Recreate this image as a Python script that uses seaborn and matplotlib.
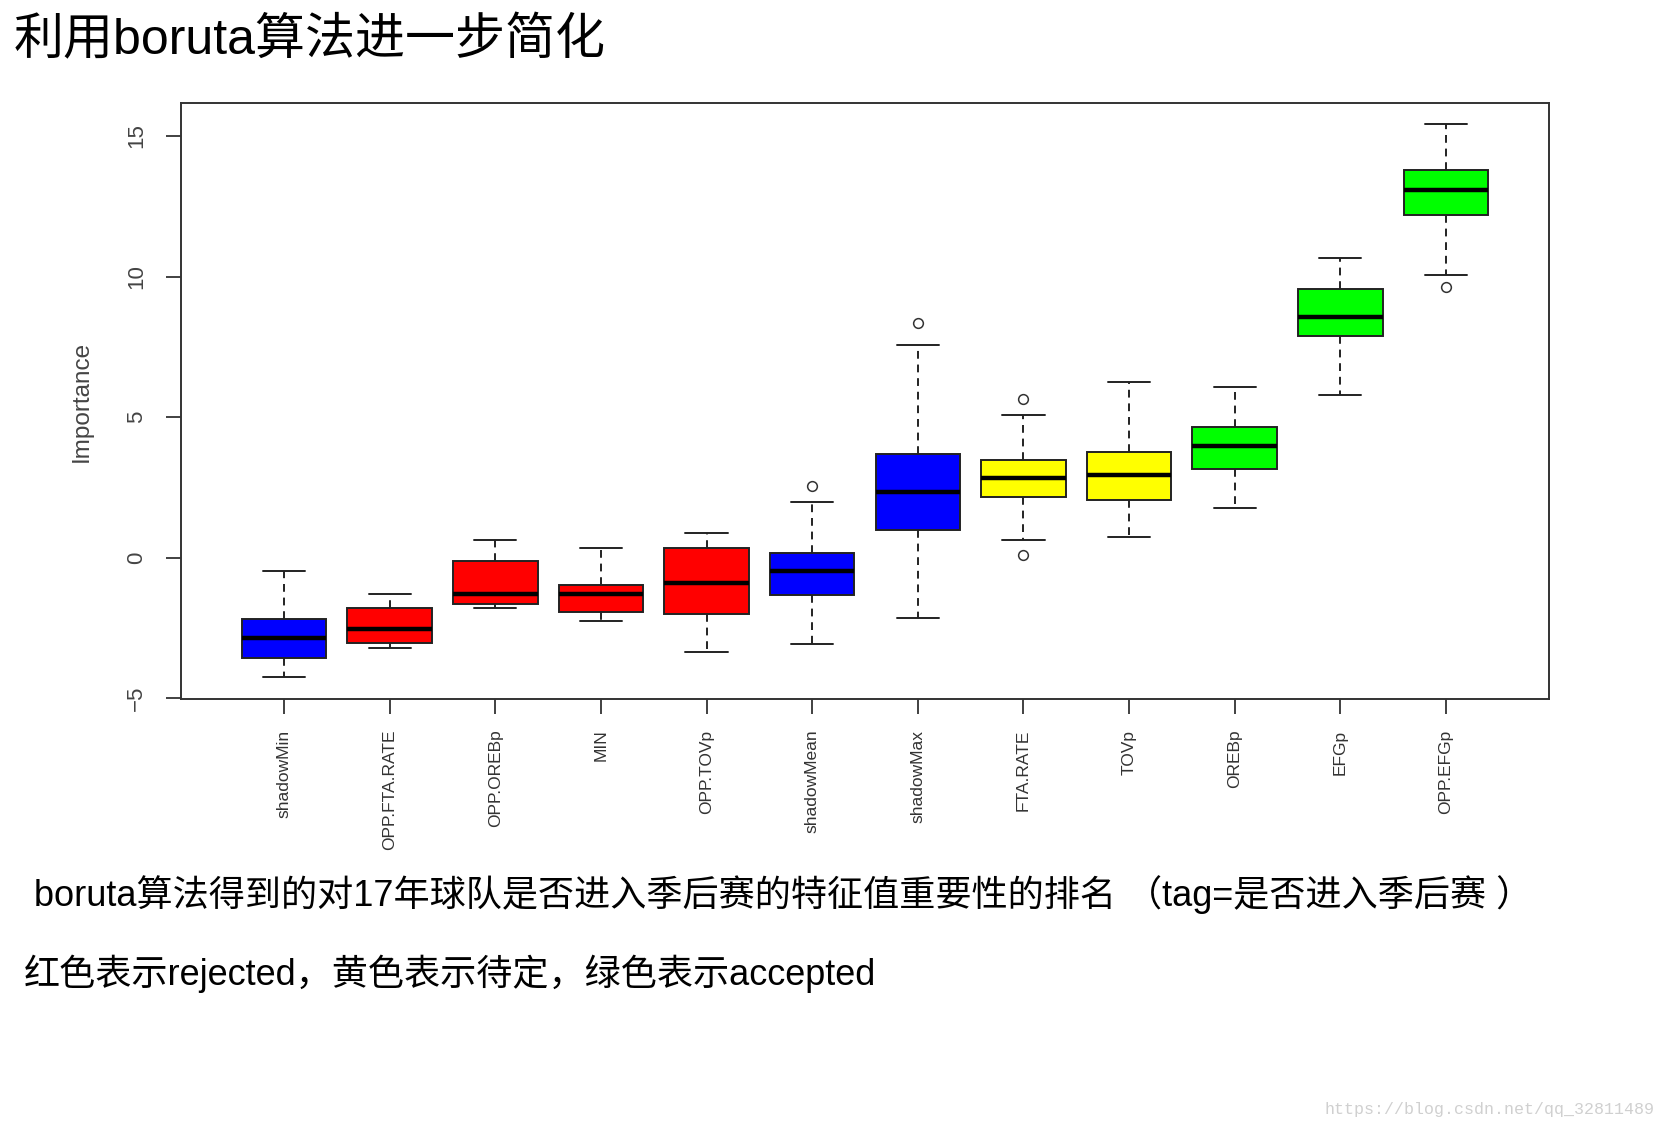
import pandas as pd
import matplotlib
matplotlib.use('Agg')
import matplotlib.pyplot as plt
import seaborn as sns

# Boruta importance summary per feature
features = ['shadowMin', 'OPP.FTA.RATE', 'OPP.OREBp', 'MIN', 'OPP.TOVp', 'shadowMean',
            'shadowMax', 'FTA.RATE', 'TOVp', 'OREBp', 'EFGp', 'OPP.EFGp']
box_colors = ['#0000FF', '#FF0000', '#FF0000', '#FF0000', '#FF0000', '#0000FF',
              '#0000FF', '#FFFF00', '#FFFF00', '#00FF00', '#00FF00', '#00FF00']
whisker_low = [-4.23, -3.22, -1.81, -2.24, -3.34, -3.07, -2.14, 0.62, 0.73, 1.78, 5.79, 10.05]
q1 = [-3.57, -3.02, -1.66, -1.92, -2.01, -1.32, 1.00, 2.15, 2.04, 3.15, 7.89, 12.18]
median = [-2.85, -2.53, -1.31, -1.31, -0.92, -0.48, 2.33, 2.82, 2.94, 3.98, 8.56, 13.08]
q3 = [-2.19, -1.81, -0.11, -0.99, 0.33, 0.16, 3.70, 3.47, 3.75, 4.64, 9.55, 13.79]
whisker_high = [-0.48, -1.31, 0.61, 0.34, 0.88, 1.98, 7.56, 5.08, 6.24, 6.07, 10.65, 15.44]
outlier_low = [None, None, None, None, None, None, None, 0.10, None, None, None, 9.64]
outlier_high = [None, None, None, None, None, 2.54, 8.34, 5.64, None, None, None, None]

title = '利用boruta算法进一步简化'
caption1 = 'boruta算法得到的对17年球队是否进入季后赛的特征值重要性的排名 （tag=是否进入季后赛 ）'
caption2 = '红色表示rejected，黄色表示待定，绿色表示accepted'
watermark = 'https://blog.csdn.net/qq_32811489'


def build_frame():
    # nine values per feature so the quartiles land on q1 / median / q3
    rows = []
    for i, name in enumerate(features):
        lo_tail = outlier_low[i] if outlier_low[i] is not None else whisker_low[i]
        hi_tail = outlier_high[i] if outlier_high[i] is not None else whisker_high[i]
        vals = [lo_tail, whisker_low[i], q1[i], q1[i], median[i],
                q3[i], q3[i], whisker_high[i], hi_tail]
        for v in vals:
            rows.append({'feature': name, 'Importance': v})
    return pd.DataFrame(rows)


def main():
    df = build_frame()

    sns.set_theme(style='ticks')
    plt.rcParams['font.family'] = ['Liberation Sans', 'Noto Sans CJK SC', 'DejaVu Sans']

    fig = plt.figure(figsize=(16.66, 11.3), dpi=100)
    ax = fig.add_axes([0.1084, 0.3814, 0.8216, 0.5274])

    sns.boxplot(data=df, x='feature', y='Importance', hue='feature', order=features,
                hue_order=features, palette=box_colors, saturation=1, width=0.8,
                linecolor='#222222', linewidth=1.4, legend=False, whis=1.5,
                medianprops={'color': 'black', 'linewidth': 3.2},
                whiskerprops={'linestyle': (0, (4, 3))},
                flierprops={'marker': 'o', 'markerfacecolor': 'white',
                            'markeredgecolor': '#333333', 'markersize': 7,
                            'markeredgewidth': 1.1},
                ax=ax)

    ax.set_xlim(-0.98, 11.98)
    ax.set_ylim(-5.03, 16.17)
    ax.set_yticks([-5, 0, 5, 10, 15])
    ax.set_xlabel('')
    ax.set_ylabel('Importance', fontsize=17.5, color='#444444', labelpad=24)

    for side in ['left', 'right', 'top', 'bottom']:
        ax.spines[side].set_visible(True)
        ax.spines[side].set_color('#333333')
        ax.spines[side].set_linewidth(1.4)

    ax.tick_params(axis='y', length=11, width=1.3, color='#333333', pad=13,
                   labelsize=16, labelcolor='#444444')
    ax.tick_params(axis='x', length=11, width=1.3, color='#333333', pad=11,
                   labelsize=12.5, labelcolor='#333333')
    for lab in ax.get_yticklabels():
        lab.set_rotation(90)
        lab.set_va('center')
    for lab in ax.get_xticklabels():
        lab.set_rotation(90)

    fig.text(0.0084, 0.964, title, fontsize=36, va='center', ha='left', color='black')
    fig.text(0.0204, 0.208, caption1, fontsize=26, va='center', ha='left', color='black')
    fig.text(0.0144, 0.138, caption2, fontsize=26, va='center', ha='left', color='black')
    fig.text(0.993, 0.0177, watermark, fontsize=12, va='center', ha='right',
             color='#d0d0d0', family=['Liberation Mono', 'DejaVu Sans Mono'])

    fig.savefig('out.png', dpi=100, facecolor='white')
    plt.close(fig)


if __name__ == "__main__":
    main()
